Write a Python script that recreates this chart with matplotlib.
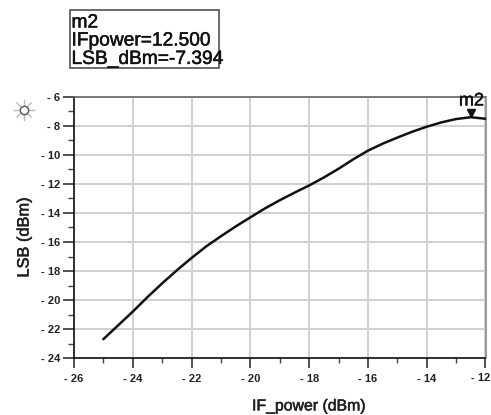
import matplotlib
matplotlib.use('Agg')
import matplotlib.pyplot as plt
import matplotlib.patheffects as pe
from matplotlib.lines import Line2D
import numpy as np

plt.rcParams['font.family'] = ['Liberation Sans', 'DejaVu Sans']

# Data
if_power = [-25, -24.5, -24, -23.5, -23, -22.5, -22, -21.5, -21, -20.5, -20, -19.5, -19, -18.5, -18,
            -17.5, -17, -16.5, -16, -15.5, -15, -14.5, -14, -13.5, -13, -12.5, -12]
lsb_dbm = [-22.7, -21.75, -20.8, -19.8, -18.85, -17.95, -17.1, -16.3, -15.6, -14.93, -14.3, -13.68, -13.12,
           -12.6, -12.1, -11.55, -10.95, -10.3, -9.7, -9.22, -8.8, -8.4, -8.05, -7.75, -7.52, -7.394, -7.5]
marker_x = -12.5
marker_y = -7.394
marker_lines = ['m2', 'IFpower=12.500', 'LSB_dBm=-7.394']
x_ticks = [-26, -24, -22, -20, -18, -16, -14, -12]
y_ticks = [-24, -22, -20, -18, -16, -14, -12, -10, -8, -6]

W, H = 491, 415
heavy = [pe.withStroke(linewidth=0.35, foreground='#111111')]

fig = plt.figure(figsize=(W / 100, H / 100), dpi=100)
ax = fig.add_axes([74 / W, 1 - 358 / H, (485.5 - 74) / W, (358 - 97) / H])

ax.plot(if_power, lsb_dbm, color='#111111', linewidth=1.8, solid_capstyle='round', zorder=3)
ax.plot([marker_x], [marker_y + 0.28], marker='v', color='#111111', markersize=6, zorder=4)
ax.text(marker_x + 0.02, -6.27, 'm2', fontsize=13, color='#111111', ha='center', va='center',
        zorder=5, clip_on=False, path_effects=heavy)

ax.set_xlim(-26, -12)
ax.set_ylim(-24, -6)
ax.set_xticks(x_ticks)
ax.set_yticks(y_ticks)
# the last x label sits against the picture edge, see fig.text below
ax.set_xticklabels([f'- {abs(v)}' for v in x_ticks[:-1]] + [''], fontsize=8, fontweight='bold', color='#222222')
ax.set_yticklabels([f'- {abs(v)}' for v in y_ticks], fontsize=8, fontweight='bold', color='#222222')
ax.set_xticks([-25, -23, -21, -19, -17, -15, -13], minor=True)
ax.set_yticks([-23, -21, -19, -17, -15, -13, -11, -9, -7], minor=True)
ax.tick_params(axis='x', which='major', length=7.2, width=1.1, color='#222222', pad=4.5)
ax.tick_params(axis='y', which='major', length=8, width=1.1, color='#222222', pad=2)
ax.tick_params(axis='x', which='minor', length=3.6, width=1.0, color='#444444')
ax.tick_params(axis='y', which='minor', length=4, width=1.0, color='#444444')
ax.grid(True, which='major', color='#d0d0d0', linewidth=1.4)
ax.set_axisbelow(True)

ax.spines['left'].set_color('#111111')
ax.spines['bottom'].set_color('#111111')
ax.spines['left'].set_linewidth(1.2)
ax.spines['bottom'].set_linewidth(1.2)
ax.spines['top'].set_color('#666666')
ax.spines['right'].set_color('#999999')
ax.spines['top'].set_linewidth(1.2)
ax.spines['right'].set_linewidth(1.4)

fig.text(490.5 / W, 1 - 378 / H, '- 12', fontsize=8, fontweight='bold', color='#222222', ha='right', va='center')
fig.text(309 / W, 1 - 406 / H, 'IF_power (dBm)', fontsize=11.4, color='#222222', ha='center', va='center',
         path_effects=heavy)
fig.text(24 / W, 1 - 237.5 / H, 'LSB (dBm)', fontsize=11.8, color='#222222', rotation=90, ha='center', va='center',
         path_effects=heavy)

# Marker readout box
fig.add_artist(plt.Rectangle((70 / W, 1 - 68 / H), 148.5 / W, 58 / H, transform=fig.transFigure,
                             facecolor='white', edgecolor='#444444', linewidth=1.1))
for line, y in zip(marker_lines, [23, 41, 59.5]):
    fig.text(71.5 / W, 1 - y / H, line, fontsize=13.8, color='#111111', ha='left', va='center', path_effects=heavy)

# Sun icon left of the plot
cx, cy = 24, 110
for a in np.arange(0, 360, 45):
    dx, dy = np.cos(np.radians(a)), np.sin(np.radians(a))
    fig.add_artist(Line2D([(cx + 5 * dx) / W, (cx + 10 * dx) / W], [1 - (cy + 5 * dy) / H, 1 - (cy + 10 * dy) / H],
                          transform=fig.transFigure, color='#bbbbbb', linewidth=1.0))
fig.add_artist(Line2D([cx / W], [1 - cy / H], transform=fig.transFigure, marker='o', markersize=6,
                      markerfacecolor='white', markeredgecolor='#555555', markeredgewidth=1.0))

fig.savefig('out.png', dpi=100)
